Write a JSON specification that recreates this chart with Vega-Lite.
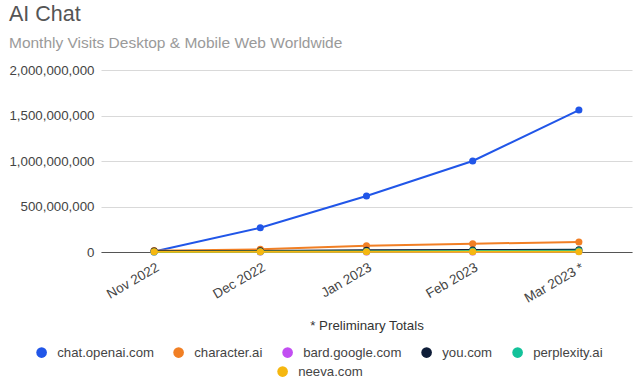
{
  "$schema": "https://vega.github.io/schema/vega-lite/v6.json",
  "width": 531,
  "height": 182,
  "padding": {"left": 8, "top": 4, "right": 7, "bottom": 5},
  "background": "white",
  "title": {
    "text": "AI Chat",
    "subtitle": "Monthly Visits Desktop & Mobile Web Worldwide",
    "anchor": "start",
    "font": "Liberation Sans",
    "fontSize": 21.5,
    "fontWeight": "normal",
    "color": "#555555",
    "subtitleFont": "Liberation Sans",
    "subtitleFontSize": 15.5,
    "subtitleColor": "#9a9a9a",
    "subtitlePadding": 10,
    "offset": 12
  },
  "data": {
    "values": [
      {"month": "Nov 2022", "site": "chat.openai.com", "visits": 5000000},
      {"month": "Dec 2022", "site": "chat.openai.com", "visits": 266000000},
      {"month": "Jan 2023", "site": "chat.openai.com", "visits": 616000000},
      {"month": "Feb 2023", "site": "chat.openai.com", "visits": 1000000000},
      {"month": "Mar 2023 *", "site": "chat.openai.com", "visits": 1560000000},
      {"month": "Nov 2022", "site": "character.ai", "visits": 15000000},
      {"month": "Dec 2022", "site": "character.ai", "visits": 29000000},
      {"month": "Jan 2023", "site": "character.ai", "visits": 69000000},
      {"month": "Feb 2023", "site": "character.ai", "visits": 91000000},
      {"month": "Mar 2023 *", "site": "character.ai", "visits": 110000000},
      {"month": "Nov 2022", "site": "bard.google.com", "visits": 0},
      {"month": "Dec 2022", "site": "bard.google.com", "visits": 0},
      {"month": "Jan 2023", "site": "bard.google.com", "visits": 0},
      {"month": "Feb 2023", "site": "bard.google.com", "visits": 0},
      {"month": "Mar 2023 *", "site": "bard.google.com", "visits": 5000000},
      {"month": "Nov 2022", "site": "you.com", "visits": 10000000},
      {"month": "Dec 2022", "site": "you.com", "visits": 12000000},
      {"month": "Jan 2023", "site": "you.com", "visits": 18000000},
      {"month": "Feb 2023", "site": "you.com", "visits": 22000000},
      {"month": "Mar 2023 *", "site": "you.com", "visits": 25000000},
      {"month": "Nov 2022", "site": "perplexity.ai", "visits": 0},
      {"month": "Dec 2022", "site": "perplexity.ai", "visits": 2000000},
      {"month": "Jan 2023", "site": "perplexity.ai", "visits": 6000000},
      {"month": "Feb 2023", "site": "perplexity.ai", "visits": 10000000},
      {"month": "Mar 2023 *", "site": "perplexity.ai", "visits": 14000000},
      {"month": "Nov 2022", "site": "neeva.com", "visits": 2000000},
      {"month": "Dec 2022", "site": "neeva.com", "visits": 2000000},
      {"month": "Jan 2023", "site": "neeva.com", "visits": 3000000},
      {"month": "Feb 2023", "site": "neeva.com", "visits": 3000000},
      {"month": "Mar 2023 *", "site": "neeva.com", "visits": 3000000}
    ]
  },
  "encoding": {
    "x": {
      "field": "month",
      "type": "ordinal",
      "sort": ["Nov 2022", "Dec 2022", "Jan 2023", "Feb 2023", "Mar 2023 *"],
      "scale": {"type": "point", "padding": 0.5},
      "axis": {
        "title": "* Preliminary Totals",
        "titleFont": "Liberation Sans",
        "titleFontSize": 13.3,
        "titleFontWeight": "normal",
        "titleColor": "#333333",
        "titlePadding": 14,
        "labelAngle": -30,
        "labelFont": "Liberation Sans",
        "labelFontSize": 13.5,
        "labelColor": "#444444",
        "labelPadding": 8,
        "ticks": false,
        "domain": true,
        "domainColor": "#555555",
        "domainWidth": 1,
        "grid": false
      }
    },
    "y": {
      "field": "visits",
      "type": "quantitative",
      "scale": {"domain": [0, 2000000000]},
      "axis": {
        "title": null,
        "values": [0, 500000000, 1000000000, 1500000000, 2000000000],
        "format": ",d",
        "labelFont": "Liberation Sans",
        "labelFontSize": 13.3,
        "labelColor": "#444444",
        "labelPadding": 7,
        "ticks": false,
        "domain": false,
        "gridColor": "#d9d9d9",
        "gridWidth": 1
      }
    }
  },
  "layer": [
    {
      "transform": [{"filter": "datum.site !== 'neeva.com'"}],
      "mark": {"type": "line", "point": {"filled": true, "size": 50}, "strokeWidth": 2},
      "encoding": {
        "color": {
          "field": "site",
          "type": "nominal",
          "sort": ["chat.openai.com", "character.ai", "bard.google.com", "you.com", "perplexity.ai"],
          "scale": {
            "domain": ["chat.openai.com", "character.ai", "bard.google.com", "you.com", "perplexity.ai"],
            "range": ["#2156e8", "#f17f24", "#c24ef2", "#0e1d38", "#13c29a"]
          },
          "legend": {
            "title": null,
            "orient": "none",
            "legendX": -66,
            "legendY": 276,
            "direction": "horizontal",
            "columns": 5,
            "symbolType": "circle",
            "symbolSize": 113,
            "symbolStrokeWidth": 0,
            "labelFont": "Liberation Sans",
            "labelFontSize": 13.2,
            "labelColor": "#444444",
            "labelOffset": 9,
            "columnPadding": 18,
            "gridAlign": "none"
          }
        }
      }
    },
    {
      "transform": [{"filter": "datum.site === 'neeva.com'"}],
      "mark": {"type": "line", "point": {"filled": true, "size": 50}, "strokeWidth": 2},
      "encoding": {
        "color": {
          "field": "site",
          "type": "nominal",
          "scale": {"domain": ["neeva.com"], "range": ["#f5b710"]},
          "legend": {
            "title": null,
            "orient": "none",
            "legendX": 175,
            "legendY": 295,
            "symbolType": "circle",
            "symbolSize": 113,
            "symbolStrokeWidth": 0,
            "labelFont": "Liberation Sans",
            "labelFontSize": 13.2,
            "labelColor": "#444444",
            "labelOffset": 9
          }
        }
      }
    }
  ],
  "resolve": {"scale": {"color": "independent"}},
  "config": {
    "view": {"stroke": null}
  }
}
